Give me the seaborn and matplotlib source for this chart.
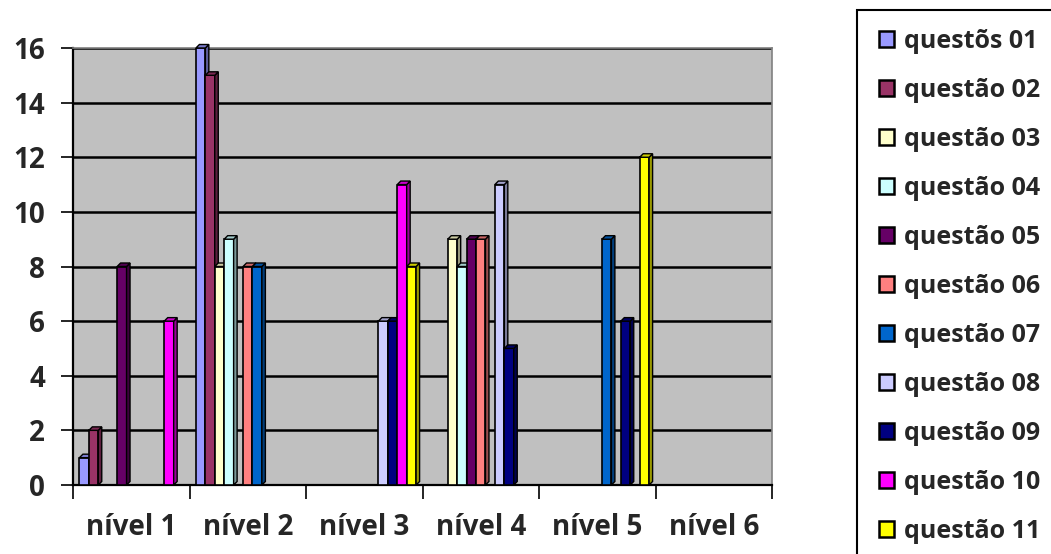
import numpy as np
import pandas as pd
import matplotlib
matplotlib.use("Agg")
import matplotlib.pyplot as plt
import matplotlib.colors as mcolors
from matplotlib.patches import Polygon, Patch, Rectangle
import seaborn as sns

# Categories and series
niveis = ["nível 1", "nível 2", "nível 3", "nível 4", "nível 5", "nível 6"]
questoes = ["questõs 01", "questão 02", "questão 03", "questão 04", "questão 05",
            "questão 06", "questão 07", "questão 08", "questão 09", "questão 10",
            "questão 11"]

q01 = [1, 16, 0, 0, 0, 0]
q02 = [2, 15, 0, 0, 0, 0]
q03 = [0, 8, 0, 9, 0, 0]
q04 = [0, 9, 0, 8, 0, 0]
q05 = [8, 0, 0, 9, 0, 0]
q06 = [0, 8, 0, 9, 0, 0]
q07 = [0, 8, 0, 0, 9, 0]
q08 = [0, 0, 6, 11, 0, 0]
q09 = [0, 0, 6, 5, 6, 0]
q10 = [6, 0, 11, 0, 0, 0]
q11 = [0, 0, 8, 0, 12, 0]

cores = ["#9999FF", "#993366", "#FFFFCC", "#CCFFFF", "#660066", "#FF8080",
         "#0066CC", "#CCCCFF", "#000080", "#FF00FF", "#FFFF00"]

yticks = [0, 2, 4, 6, 8, 10, 12, 14, 16]

series = [q01, q02, q03, q04, q05, q06, q07, q08, q09, q10, q11]
df = pd.DataFrame(
    [(n, q, v) for q, vals in zip(questoes, series) for n, v in zip(niveis, vals)],
    columns=["nivel", "questao", "valor"],
)

sns.set_style("white")
plt.rcParams["font.family"] = ["Open Sans", "DejaVu Sans"]
plt.rcParams["font.weight"] = "bold"

W, H = 1051, 554
FS_TICK = 20
FS_LEG = 18
fig = plt.figure(figsize=(W / 100, H / 100), dpi=100)
ax = fig.add_axes([73 / W, 1 - 485 / H, (772 - 73) / W, (485 - 48) / H])
ax.set_facecolor("#C0C0C0")

sns.barplot(data=df, x="nivel", y="valor", hue="questao", order=niveis,
            hue_order=questoes, palette=cores, saturation=1, width=0.89,
            edgecolor="black", linewidth=1.2, errorbar=None, legend=False, ax=ax)

ax.set_xlim(-0.5, 5.5)
ax.set_ylim(0, 16)

# depth of the bar faces, in data units (about 3.5 px each way)
bbox = ax.get_window_extent()
dx = 3.5 * 6 / bbox.width
dy = 3.5 * 16 / bbox.height

def shade(c, f):
    r, g, b = mcolors.to_rgb(c)
    return (r * f, g * f, b * f)

for i, cont in enumerate(ax.containers):
    col = cores[i]
    for bar in cont:
        bar.set_zorder(3 + 0.1 * i)
        h = bar.get_height()
        if not np.isfinite(h) or h <= 0:
            continue
        x0 = bar.get_x()
        x1 = x0 + bar.get_width()
        side = Polygon([(x1, 0), (x1 + dx, dy), (x1 + dx, h + dy), (x1, h)],
                       closed=True, facecolor=shade(col, 0.6), edgecolor="black",
                       linewidth=1.0, zorder=3 + 0.1 * i + 0.05, clip_on=False)
        top = Polygon([(x0, h), (x0 + dx, h + dy), (x1 + dx, h + dy), (x1, h)],
                      closed=True, facecolor=shade(col, 0.8), edgecolor="black",
                      linewidth=1.0, zorder=3 + 0.1 * i + 0.05, clip_on=False)
        ax.add_patch(side)
        ax.add_patch(top)

# grid and axes styling
ax.set_axisbelow(True)
ax.yaxis.grid(True, color="black", linewidth=1.8)
ax.xaxis.grid(False)
ax.set_yticks(yticks)
ax.set_yticklabels([str(t) for t in yticks])
ax.set_xlabel("")
ax.set_ylabel("")

for s in ["left", "bottom"]:
    ax.spines[s].set_color("black")
    ax.spines[s].set_linewidth(1.6)
for s in ["top", "right"]:
    ax.spines[s].set_color("#808080")
    ax.spines[s].set_linewidth(1.2)

ax.tick_params(axis="y", which="major", direction="out", length=9, width=1.2,
               pad=11, labelsize=FS_TICK, left=True, color="black")
ax.tick_params(axis="x", which="major", length=0, pad=20, labelsize=FS_TICK)
ax.set_xticks(np.arange(-0.5, 6, 1), minor=True)
ax.tick_params(axis="x", which="minor", direction="out", length=10, width=1.2,
               bottom=True, color="black")
for lab in ax.get_xticklabels() + ax.get_yticklabels():
    lab.set_fontweight("bold")

# legend
handles = [Patch(facecolor=c, edgecolor="black", linewidth=1.8) for c in cores]
fig.legend(handles, questoes, loc="upper left",
           bbox_to_anchor=(879 / W, 1 - 29 / H), frameon=False,
           prop={"size": FS_LEG, "weight": "bold"}, handlelength=0.6,
           handleheight=0.6, handletextpad=0.4, labelspacing=0.96,
           borderpad=0, borderaxespad=0)
frame = Rectangle((857 / W, -0.2), 0.3, 1.2 - 10 / H,
                  transform=fig.transFigure, fill=False,
                  edgecolor="black", linewidth=1.5)
fig.add_artist(frame)

fig.savefig("out.png", dpi=100)
